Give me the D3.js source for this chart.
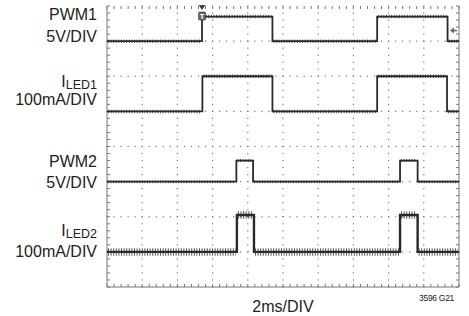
<!DOCTYPE html>
<html>
<head>
<meta charset="utf-8">
<script src="https://cdn.jsdelivr.net/npm/d3@7"></script>
<style>
  body { margin: 0; background: #fff; }
  svg { display: block; font-family: "Liberation Sans", Arial, sans-serif; }
</style>
</head>
<body>
<svg id="chart"></svg>
<script>
// scope setup: 10 x 8 divisions, 2ms/DIV
const timeDomain = [0, 20]; // ms
const divDomain = [0, 8];

// channels, top to bottom
const channels = ["PWM1", "ILED1", "PWM2", "ILED2"];
const channelOffsetDiv = [7, 5, 3, 1]; // ground level of each trace, in divisions
const unitsPerDiv = [5, 100, 5, 100]; // V/DIV or mA/DIV
const highLevels = [3.5, 100, 3, 105]; // V or mA when on

// switching edges (ms), each trace starts low
const pwm1Edges = [5.4, 9.4, 15.35, 19.35];
const iled1Edges = [5.42, 9.4, 15.35, 19.32];
const pwm2Edges = [7.35, 8.3, 16.65, 17.65];
const iled2Edges = [7.38, 8.35, 16.65, 17.65];
const edges = [pwm1Edges, iled1Edges, pwm2Edges, iled2Edges];

const triggerTime = 5.4; // ms
const triggerLevel = 1.5; // V on PWM1

const width = 469, height = 316;
const margin = { top: 6, right: 10, bottom: 29, left: 107 };

const svg = d3.select("#chart").attr("width", width).attr("height", height);

const x = d3.scaleLinear().domain(timeDomain).range([margin.left, width - margin.right]);
const y = d3.scaleLinear().domain(divDomain).range([height - margin.bottom, margin.top]);

const gridColor = "#777";
const minor = d3.range(0, 8.0001, 0.2);
const minorX = d3.range(0, 20.0001, 0.4);

// graticule: dotted lines on each division
const grid = svg.append("g");
d3.range(1, 10).forEach((i) => {
  grid.selectAll(null).data(minor).enter().append("rect")
    .attr("x", x(i * 2) - 0.6).attr("y", (d) => y(d) - 0.6)
    .attr("width", 1.2).attr("height", 1.2).attr("fill", gridColor);
});
d3.range(1, 8).forEach((j) => {
  grid.selectAll(null).data(minorX).enter().append("rect")
    .attr("x", (d) => x(d) - 0.6).attr("y", y(j) - 0.6)
    .attr("width", 1.2).attr("height", 1.2).attr("fill", gridColor);
});

// frame lines with minor ticks
const frame = svg.append("g").attr("stroke", gridColor).attr("stroke-width", 1);
frame.append("line").attr("x1", x(0)).attr("x2", x(0)).attr("y1", y(8)).attr("y2", y(0));
frame.append("line").attr("x1", x(20)).attr("x2", x(20)).attr("y1", y(8)).attr("y2", y(0));
frame.append("line").attr("x1", x(0)).attr("x2", x(20)).attr("y1", y(0)).attr("y2", y(0));
frame.selectAll(".tl").data(minor).enter().append("line")
  .attr("x1", x(0)).attr("x2", x(0) + 3).attr("y1", (d) => y(d)).attr("y2", (d) => y(d));
frame.selectAll(".tr").data(minor).enter().append("line")
  .attr("x1", x(20) - 3).attr("x2", x(20)).attr("y1", (d) => y(d)).attr("y2", (d) => y(d));
frame.selectAll(".tb").data(minorX).enter().append("line")
  .attr("x1", (d) => x(d)).attr("x2", (d) => x(d)).attr("y1", y(0) - 3).attr("y2", y(0));
frame.selectAll(".tt").data(minorX).enter().append("line")
  .attr("x1", (d) => x(d)).attr("x2", (d) => x(d)).attr("y1", y(8)).attr("y2", y(8) + 3);

// traces
const noiseWidth = [3.5, 3.5, 3, 7.5]; // fuzz band thickness (px)
const line = d3.line().x((d) => x(d.t)).y((d) => y(d.v)).curve(d3.curveStepAfter);

channels.forEach((name, i) => {
  const lo = channelOffsetDiv[i];
  const hi = lo + highLevels[i] / unitsPerDiv[i];
  const pts = [{ t: timeDomain[0], v: lo }];
  edges[i].forEach((t, k) => pts.push({ t: t, v: k % 2 === 0 ? hi : lo }));
  pts.push({ t: timeDomain[1], v: pts[pts.length - 1].v });

  const g = svg.append("g");
  // fuzz on the flat parts
  for (let k = 0; k < pts.length - 1; k++) {
    g.append("line")
      .attr("x1", x(pts[k].t) + 1).attr("x2", x(pts[k + 1].t) - 1)
      .attr("y1", y(pts[k].v)).attr("y2", y(pts[k].v))
      .attr("stroke", "#333").attr("stroke-width", noiseWidth[i])
      .attr("stroke-dasharray", "1,1.6").attr("opacity", 0.8);
  }
  g.append("path").datum(pts).attr("d", line)
    .attr("fill", "none").attr("stroke", "#2a2a2a").attr("stroke-width", i === 3 ? 2.4 : 1.8);
});

// trigger marker
const tx = x(triggerTime);
svg.append("path")
  .attr("d", `M${tx - 3.5},${y(8) - 1}L${tx + 3.5},${y(8) - 1}L${tx},${y(8) + 4}Z`)
  .attr("fill", "#444");
svg.append("rect").attr("x", tx - 3.5).attr("y", 12).attr("width", 7).attr("height", 8)
  .attr("rx", 1).attr("fill", "#666").attr("stroke", "#333").attr("stroke-width", 0.6);
svg.append("text").attr("x", tx).attr("y", 18.5).attr("text-anchor", "middle")
  .attr("font-size", 7.5).attr("font-weight", "bold").attr("fill", "#fff").text("T");

// trigger level arrow on right edge
const ty = y(channelOffsetDiv[0] + triggerLevel / unitsPerDiv[0]);
svg.append("path")
  .attr("d", `M${x(20) - 9},${ty}L${x(20) - 5},${ty - 3}L${x(20) - 5},${ty + 3}Z`)
  .attr("fill", "#666");
svg.append("line").attr("x1", x(20) - 6).attr("x2", x(20) - 2).attr("y1", ty).attr("y2", ty)
  .attr("stroke", "#666").attr("stroke-width", 1.5);

// channel labels
const labels = svg.append("g").attr("text-anchor", "end").attr("fill", "#222").attr("font-size", 16);
labels.append("text").attr("x", 97).attr("y", 20).text("PWM1");
labels.append("text").attr("x", 97).attr("y", 42).text("5V/DIV");
const l1 = labels.append("text").attr("x", 97).attr("y", 87);
l1.append("tspan").text("I");
l1.append("tspan").attr("font-size", 12.5).attr("dy", 2).text("LED1");
labels.append("text").attr("x", 97).attr("y", 105).text("100mA/DIV");
labels.append("text").attr("x", 97).attr("y", 167).text("PWM2");
labels.append("text").attr("x", 97).attr("y", 188).text("5V/DIV");
const l2 = labels.append("text").attr("x", 97).attr("y", 236);
l2.append("tspan").text("I");
l2.append("tspan").attr("font-size", 12.5).attr("dy", 2).text("LED2");
labels.append("text").attr("x", 97).attr("y", 257).text("100mA/DIV");

svg.append("text").attr("x", x(10)).attr("y", 312).attr("text-anchor", "middle")
  .attr("font-size", 16).attr("fill", "#222").text("2ms/DIV");
svg.append("text").attr("x", 454).attr("y", 301).attr("text-anchor", "end")
  .attr("font-size", 8.5).attr("letter-spacing", -0.3).attr("fill", "#222").text("3596 G21");
</script>
</body>
</html>
